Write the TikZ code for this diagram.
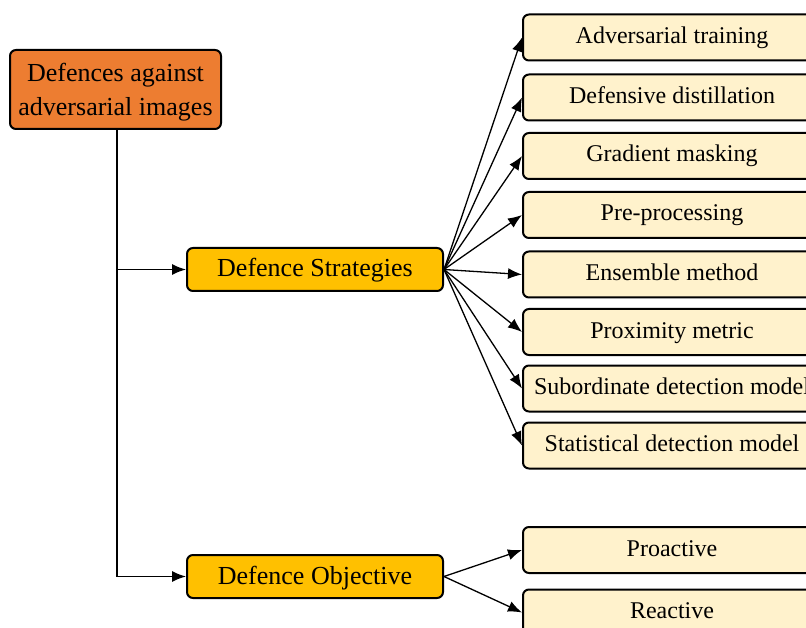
\documentclass[tikz,border=0pt]{standalone}
\usepackage{fontspec}
\setmainfont{Liberation Serif}
\usetikzlibrary{arrows.meta}
\definecolor{rootfill}{HTML}{ED7D31}
\definecolor{midfill}{HTML}{FFC000}
\definecolor{leaffill}{HTML}{FFF2CC}
\begin{document}
\begin{tikzpicture}[x=1pt,y=-1pt,
  box/.style={draw=black, line width=2pt, rounded corners=6pt, inner sep=0pt, align=center},
  rootbox/.style={box, fill=rootfill, minimum width=211pt, minimum height=79pt},
  roottext/.style={inner sep=0pt, align=center, font=\fontsize{26}{34}\selectfont},
  midbox/.style={box, fill=midfill, minimum width=256pt, minimum height=43pt,
    text height=20pt, text depth=5pt, font=\fontsize{26}{30}\selectfont},
  leafbox/.style={box, fill=leaffill, minimum width=298pt, minimum height=46pt,
    text height=18pt, text depth=6pt, font=\fontsize{24}{28}\selectfont},
  link/.style={draw=black, line width=1.3pt},
  arr/.style={link, -{Latex[length=14pt,width=11pt]}}
]
\useasboundingbox (0,0) rectangle (806,628);
\begin{scope}
\clip (0,0) rectangle (806,628);

% top-level node
\node[rootbox] (root) at (115.5,89.5) {};
\node[roottext] (roottxt) at ([yshift=-3pt]root.center) {Defences against\\adversarial images};

% second level
\node[midbox] (strat) at (315,269.5) {Defence Strategies};
\node[midbox] (obj) at (315,576.5) {Defence Objective};

% strategy leaves
\node[leafbox] (s1) at (672,37.5) {Adversarial training};
\node[leafbox] (s2) at (672,97.5) {Defensive distillation};
\node[leafbox] (s3) at (672,156) {Gradient masking};
\node[leafbox] (s4) at (672,215) {Pre-processing};
\node[leafbox] (s5) at (672,274.5) {Ensemble method};
\node[leafbox] (s6) at (672,332) {Proximity metric};
\node[leafbox] (s7) at (672,388.5) {Subordinate detection model};
\node[leafbox] (s8) at (672,445.5) {Statistical detection model};

% objective leaves
\node[leafbox] (o1) at (672,550) {Proactive};
\node[leafbox] (o2) at (672,612.5) {Reactive};

% trunk from the root to the second level
\coordinate (trunk) at ([xshift=1.5pt]root.south);
\draw[link] (trunk) -- (trunk |- obj.west);
\draw[arr] (trunk |- strat.west) -- (strat.west);
\draw[arr] (trunk |- obj.west) -- (obj.west);

% fan-out to the leaves
\foreach \n in {s1,s2,s3,s4,s5,s6,s7,s8}
  \draw[arr] (strat.east) -- (\n.west);
\foreach \n in {o1,o2}
  \draw[arr] (obj.east) -- (\n.west);
\end{scope}
\end{tikzpicture}
\end{document}
